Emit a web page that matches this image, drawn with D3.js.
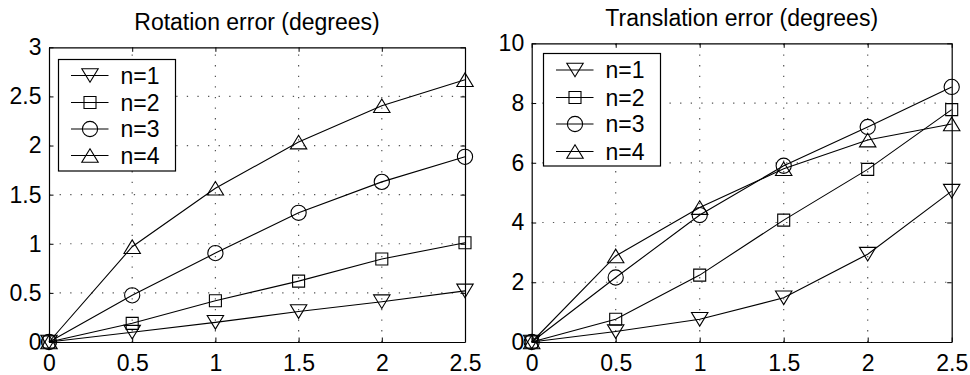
<!DOCTYPE html>
<html>
<head>
<meta charset="utf-8">
<script src="https://cdn.jsdelivr.net/npm/d3@7"></script>
<style>
  html, body { margin: 0; padding: 0; background: #fff; }
  svg { display: block; }
  text { font-family: "Liberation Sans", Arial, Helvetica, sans-serif; fill: #000; }
</style>
</head>
<body>
<svg id="chart" width="970" height="375"></svg>
<script>
// Shared x values (noise level) for both panels
const xValues = [0, 0.5, 1, 1.5, 2, 2.5];
const xTicks = [0, 0.5, 1, 1.5, 2, 2.5];
const seriesNames = ["n=1", "n=2", "n=3", "n=4"];
const markerTypes = ["triangleDown", "square", "circle", "triangleUp"];

// Rotation error (degrees)
const rotationN1 = [0, 0.10, 0.20, 0.31, 0.41, 0.52];
const rotationN2 = [0, 0.19, 0.42, 0.62, 0.845, 1.01];
const rotationN3 = [0, 0.475, 0.905, 1.315, 1.63, 1.885];
const rotationN4 = [0, 0.97, 1.565, 2.035, 2.405, 2.67];
const rotationYTicks = [0, 0.5, 1, 1.5, 2, 2.5, 3];

// Translation error (degrees)
const translationN1 = [0, 0.35, 0.76, 1.48, 2.94, 5.05];
const translationN2 = [0, 0.76, 2.24, 4.08, 5.78, 7.78];
const translationN3 = [0, 2.16, 4.25, 5.9, 7.2, 8.54];
const translationN4 = [0, 2.88, 4.5, 5.8, 6.76, 7.3];
const translationYTicks = [0, 2, 4, 6, 8, 10];

const FONT_SIZE = 23;

const svg = d3.select("#chart");

const panels = [
  {
    title: "Rotation error (degrees)",
    series: [rotationN1, rotationN2, rotationN3, rotationN4],
    yTicks: rotationYTicks,
    yDomain: [0, 3],
    left: 49, right: 465, top: 47.3, bottom: 342,
    titleY: 29.5,
    legend: { x: 58.5, y: 59.5, w: 117, h: 111.5, rows: [75.5, 102.5, 129, 155.5] }
  },
  {
    title: "Translation error (degrees)",
    series: [translationN1, translationN2, translationN3, translationN4],
    yTicks: translationYTicks,
    yDomain: [0, 10],
    left: 531.7, right: 951.7, top: 43.3, bottom: 342,
    titleY: 25.5,
    legend: { x: 543.5, y: 53.5, w: 117, h: 112.5, rows: [70, 97.5, 124, 151.5] }
  }
];

function drawMarker(g, type, cx, cy) {
  const s = g.append("path")
    .attr("fill", "none")
    .attr("stroke", "#000")
    .attr("stroke-width", 1.1);
  const hw = 8.2, hh = 6.8;
  if (type === "triangleDown") {
    s.attr("d", `M${cx - hw},${cy - hh}L${cx + hw},${cy - hh}L${cx},${cy + hh}Z`);
  } else if (type === "triangleUp") {
    s.attr("d", `M${cx - hw},${cy + hh}L${cx + hw},${cy + hh}L${cx},${cy - hh}Z`);
  } else if (type === "square") {
    const h = 6;
    s.attr("d", `M${cx - h},${cy - h}H${cx + h}V${cy + h}H${cx - h}Z`);
  } else {
    const r = 7.6;
    s.attr("d", `M${cx - r},${cy}A${r},${r} 0 1,0 ${cx + r},${cy}A${r},${r} 0 1,0 ${cx - r},${cy}Z`);
  }
}

panels.forEach(p => {
  const x = d3.scaleLinear().domain([0, 2.5]).range([p.left, p.right]);
  const y = d3.scaleLinear().domain(p.yDomain).range([p.bottom, p.top]);
  const g = svg.append("g");

  // Dotted grid
  const grid = g.append("g")
    .attr("stroke", "#555")
    .attr("stroke-width", 1.2)
    .attr("stroke-dasharray", "1.3,9.3");
  xTicks.slice(1, -1).forEach(t => {
    grid.append("line")
      .attr("x1", x(t)).attr("x2", x(t))
      .attr("y1", p.bottom).attr("y2", p.top);
  });
  p.yTicks.slice(1, -1).forEach(t => {
    grid.append("line")
      .attr("x1", p.left).attr("x2", p.right)
      .attr("y1", y(t)).attr("y2", y(t));
  });

  // Axes with inward ticks on all four sides
  const tickLen = 4.5;
  g.append("g").attr("transform", `translate(0,${p.bottom})`)
    .call(d3.axisBottom(x).tickValues(xTicks).tickSizeInner(-tickLen).tickSizeOuter(0).tickPadding(13).tickFormat(d3.format("~g")));
  g.append("g").attr("transform", `translate(0,${p.top})`)
    .call(d3.axisTop(x).tickValues(xTicks).tickSizeInner(-tickLen).tickSizeOuter(0).tickFormat(""));
  g.append("g").attr("transform", `translate(${p.left},0)`)
    .call(d3.axisLeft(y).tickValues(p.yTicks).tickSizeInner(-tickLen).tickSizeOuter(0).tickPadding(7.5).tickFormat(d3.format("~g")));
  g.append("g").attr("transform", `translate(${p.right},0)`)
    .call(d3.axisRight(y).tickValues(p.yTicks).tickSizeInner(-tickLen).tickSizeOuter(0).tickFormat(""));

  g.selectAll(".domain").attr("stroke", "#000").attr("stroke-width", 1.2);
  g.selectAll(".tick line").attr("stroke", "#000").attr("stroke-width", 1);
  g.selectAll(".tick text")
    .style("font-size", FONT_SIZE + "px")
    .style("font-family", '"Liberation Sans", Arial, sans-serif')
    .attr("fill", "#000");

  // Title
  g.append("text")
    .attr("x", (p.left + p.right) / 2)
    .attr("y", p.titleY)
    .attr("text-anchor", "middle")
    .style("font-size", FONT_SIZE + "px")
    .text(p.title);

  // Series lines and markers
  const line = d3.line().x((d, i) => x(xValues[i])).y(d => y(d));
  p.series.forEach((vals, si) => {
    g.append("path")
      .datum(vals)
      .attr("fill", "none")
      .attr("stroke", "#000")
      .attr("stroke-width", 1.1)
      .attr("d", line);
    vals.forEach((v, i) => drawMarker(g, markerTypes[si], x(xValues[i]), y(v)));
  });

  // Legend
  const L = p.legend;
  const lg = g.append("g");
  lg.append("rect")
    .attr("x", L.x).attr("y", L.y).attr("width", L.w).attr("height", L.h)
    .attr("fill", "#fff").attr("stroke", "#000").attr("stroke-width", 1.2);
  seriesNames.forEach((name, si) => {
    const ry = L.rows[si];
    lg.append("line")
      .attr("x1", L.x + 12.5).attr("x2", L.x + 50)
      .attr("y1", ry).attr("y2", ry)
      .attr("stroke", "#000").attr("stroke-width", 1.1);
    drawMarker(lg, markerTypes[si], L.x + 31.5, ry);
    lg.append("text")
      .attr("x", L.x + 62)
      .attr("y", ry + 8)
      .style("font-size", FONT_SIZE + "px")
      .text(name);
  });
});
</script>
</body>
</html>
